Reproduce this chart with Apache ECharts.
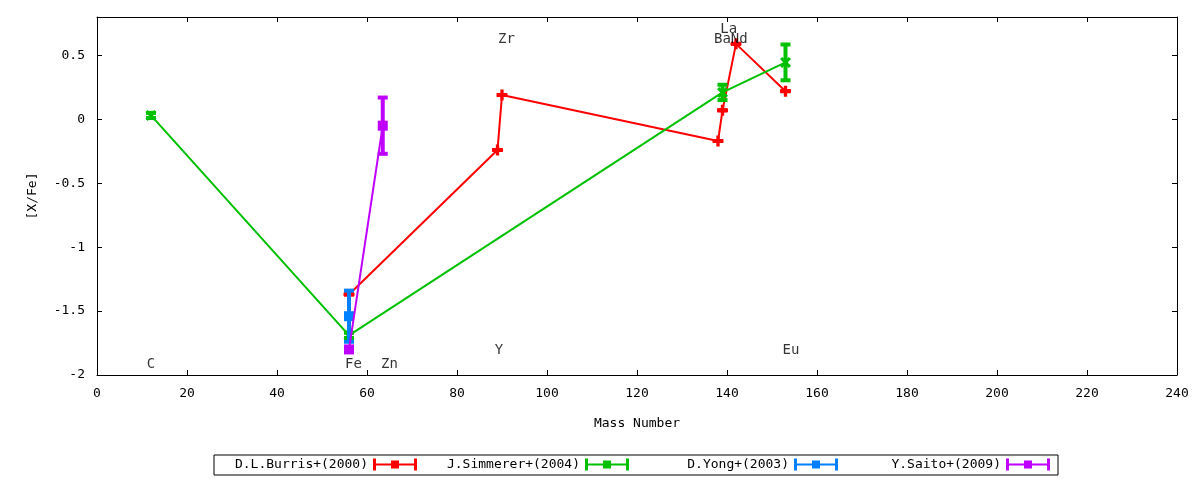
<!DOCTYPE html>
<html>
<head>
<meta charset="utf-8">
<script src="https://cdn.jsdelivr.net/npm/echarts@6/dist/echarts.min.js"></script>
<style>
  html, body { margin: 0; padding: 0; background: #fff; }
  #main { width: 1200px; height: 480px; }
</style>
</head>
<body>
<div id="main"></div>
<script>
// D.L.Burris+(2000)
const burrisMass = [56, 89, 90, 138, 139, 142, 153];
const burrisXFe  = [-1.37, -0.24, 0.19, -0.17, 0.07, 0.59, 0.22];
const burrisErr  = [0, 0, 0, 0, 0, 0, 0];
// J.Simmerer+(2004)
const simmMass = [12, 56, 139, 153];
const simmXFe  = [0.03, -1.69, 0.21, 0.445];
const simmErr  = [0.02, 0.02, 0.06, 0.14];
// D.Yong+(2003)
const yongMass = [56];
const yongXFe  = [-1.54];
const yongErr  = [0.2];
// Y.Saito+(2009)
const saitoMass = [56, 63.5];
const saitoXFe  = [-1.80, -0.05];
const saitoErr  = [0, 0.22];

// element labels
const elemNames = ['C', 'Fe', 'Zn', 'Y', 'Zr', 'Ba', 'La', 'Nd', 'Eu'];
const elemX     = [12, 57, 65, 89.3, 91, 139, 140.4, 142.7, 154.2];
const elemY     = [-1.915, -1.915, -1.915, -1.81, 0.625, 0.625, 0.705, 0.625, -1.81];

const xTicks = { min: 0, max: 240, interval: 20 };
const yTicks = { min: -2, max: 0.8, interval: 0.5 };

var myChart = echarts.init(document.getElementById('main'));
const FONT = 'DejaVu Sans Mono';

const plusSym = 'path://M3.5,0 H6.5 V3.5 H10 V6.5 H6.5 V10 H3.5 V6.5 H0 V3.5 H3.5 Z';
const crossSym = 'path://M0,2 L2,0 L5,3 L8,0 L10,2 L7,5 L10,8 L8,10 L5,7 L2,10 L0,8 L3,5 Z';
const legendIcon = 'path://M0,0 H3 V5 H41 V0 H44 V12 H41 V7 H3 V12 H0 Z M18,2 H26 V10 H18 Z';

function pairs(xs, ys) {
  return xs.map(function (x, i) { return [x, ys[i]]; });
}
function errData(xs, ys, es) {
  return xs.map(function (x, i) { return [x, ys[i] - es[i], ys[i] + es[i]]; });
}
function errSeries(name, color, xs, ys, es, z) {
  return {
    name: name,
    type: 'custom',
    z: z,
    data: errData(xs, ys, es),
    renderItem: function (params, api) {
      var lo = api.coord([api.value(0), api.value(1)]);
      var hi = api.coord([api.value(0), api.value(2)]);
      var w = 5;
      var st = { stroke: color, lineWidth: 4 };
      return {
        type: 'group',
        children: [
          { type: 'line', shape: { x1: lo[0], y1: lo[1], x2: hi[0], y2: hi[1] }, style: st },
          { type: 'line', shape: { x1: lo[0] - w, y1: lo[1], x2: lo[0] + w, y2: lo[1] }, style: st },
          { type: 'line', shape: { x1: hi[0] - w, y1: hi[1], x2: hi[0] + w, y2: hi[1] }, style: st }
        ]
      };
    }
  };
}
function lineSeries(name, color, xs, ys, sym, size, z) {
  return {
    name: name,
    type: 'line',
    z: z,
    data: pairs(xs, ys),
    symbol: sym,
    symbolSize: size,
    showAllSymbol: true,
    lineStyle: { color: color, width: 2 },
    itemStyle: { color: color },
    emphasis: { disabled: true }
  };
}

const names = ['D.L.Burris+(2000)', 'J.Simmerer+(2004)', 'D.Yong+(2003)', 'Y.Saito+(2009)'];
const colors = ['#ff0000', '#00c000', '#0080ff', '#c000ff'];
const legendRight = [783, 571, 362, 150];

var legends = names.map(function (n, i) {
  return {
    right: legendRight[i],
    top: 458,
    padding: 0,
    align: 'right',
    itemWidth: 44,
    itemHeight: 12,
    selectedMode: false,
    textStyle: { fontFamily: FONT, fontSize: 13, color: '#000' },
    data: [{ name: n, icon: legendIcon }]
  };
});

var xBase = {
  type: 'value', min: xTicks.min, max: xTicks.max, interval: xTicks.interval,
  splitLine: { show: false },
  axisLine: { show: true, onZero: false, lineStyle: { color: '#000', width: 1 } },
  axisTick: { inside: true, length: 5, lineStyle: { color: '#000' } }
};
var yBase = {
  type: 'value', min: yTicks.min, max: yTicks.max, interval: yTicks.interval,
  splitLine: { show: false },
  axisLine: { show: true, onZero: false, lineStyle: { color: '#000', width: 1 } },
  axisTick: { inside: true, length: 5, lineStyle: { color: '#000' } }
};

var option = {
  animation: false,
  backgroundColor: '#fff',
  grid: { left: 97, right: 23, top: 17, bottom: 105 },
  legend: legends,
  graphic: [{
    type: 'rect',
    shape: { x: 214, y: 455, width: 844, height: 20 },
    style: { fill: 'none', stroke: '#000', lineWidth: 1 },
    silent: true
  }],
  xAxis: [
    Object.assign({}, xBase, {
      position: 'bottom',
      name: 'Mass Number',
      nameLocation: 'middle',
      nameGap: 42,
      nameTextStyle: { fontFamily: FONT, fontSize: 13, color: '#000' },
      axisLabel: { fontFamily: FONT, fontSize: 13, color: '#000', margin: 12 }
    }),
    Object.assign({}, xBase, { position: 'top', axisLabel: { show: false } })
  ],
  yAxis: [
    Object.assign({}, yBase, {
      position: 'left',
      name: '[X/Fe]',
      nameLocation: 'middle',
      nameGap: 58,
      nameTextStyle: { fontFamily: FONT, fontSize: 13, color: '#000' },
      axisLabel: { fontFamily: FONT, fontSize: 13, color: '#000', margin: 12, showMaxLabel: false }
    }),
    Object.assign({}, yBase, { position: 'right', axisLabel: { show: false } })
  ],
  series: [
    lineSeries(names[0], colors[0], burrisMass, burrisXFe, plusSym, 11, 2),
    errSeries(names[0], colors[0], burrisMass, burrisXFe, burrisErr, 2),
    lineSeries(names[1], colors[1], simmMass, simmXFe, crossSym, 11, 3),
    errSeries(names[1], colors[1], simmMass, simmXFe, simmErr, 3),
    lineSeries(names[2], colors[2], yongMass, yongXFe, 'rect', 10, 4),
    errSeries(names[2], colors[2], yongMass, yongXFe, yongErr, 4),
    lineSeries(names[3], colors[3], saitoMass, saitoXFe, 'rect', 10, 5),
    errSeries(names[3], colors[3], saitoMass, saitoXFe, saitoErr, 5),
    {
      type: 'scatter',
      z: 6,
      silent: true,
      symbolSize: 1,
      itemStyle: { color: 'rgba(0,0,0,0)' },
      data: elemNames.map(function (n, i) { return { name: n, value: [elemX[i], elemY[i]] }; }),
      label: {
        show: true,
        position: 'inside',
        formatter: '{b}',
        fontFamily: FONT,
        fontSize: 14,
        color: '#000'
      }
    }
  ]
};
myChart.setOption(option);
</script>
</body>
</html>
